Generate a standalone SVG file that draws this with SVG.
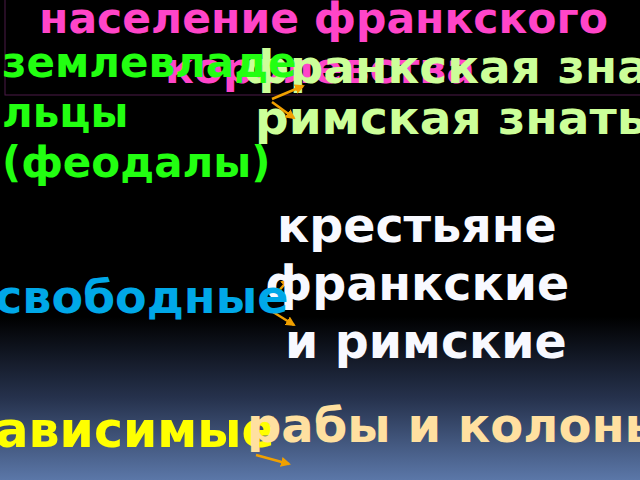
<svg xmlns="http://www.w3.org/2000/svg" width="640" height="480" viewBox="0 0 640 480">
<defs>
<linearGradient id="bg" x1="0" y1="0" x2="0" y2="1">
<stop offset="0" stop-color="#000000"/>
<stop offset="0.66" stop-color="#000000"/>
<stop offset="0.83" stop-color="#26324d"/>
<stop offset="1" stop-color="#5b77a8"/>
</linearGradient>
<marker id="ah" viewBox="0 0 10 10" refX="8" refY="5" markerWidth="4" markerHeight="4" orient="auto" markerUnits="strokeWidth">
<path d="M0,0 L10,5 L0,10 Z" fill="#f0a000"/>
</marker>
<style>
text{font-family:"DejaVu Sans","Liberation Sans",sans-serif;font-weight:bold}
.mag{fill:#ff45c8;font-size:42.5px}
.grn{fill:#22ff11;font-size:42px}
.lg{fill:#ccff99;font-size:47px}
.wh{fill:#f8f9ff;font-size:47.5px}
.bl{fill:#00a8e8;font-size:46px}
.ye{fill:#ffff00;font-size:49px}
.pe{fill:#ffe0a0;font-size:48px}
.arr{stroke:#f0a000;stroke-width:2.5;fill:none;marker-end:url(#ah)}
</style>
</defs>
<rect x="0" y="0" width="640" height="480" fill="url(#bg)"/>
<rect x="5" y="-2" width="640" height="97" fill="none" stroke="#4d1a48" stroke-width="1"/>
<g id="title">
<text class="mag" x="323.5" y="33" text-anchor="middle">население франкского</text>
<text class="mag" x="165" y="83">королевства</text>
</g>
<g id="frank-nobility">
<text class="lg" x="243" y="83">франкская знать</text>
</g>
<g id="roman-nobility">
<text class="lg" x="255" y="134">римская знать</text>
</g>
<g id="connectors">
<line class="arr" x1="272" y1="99" x2="303" y2="86"/>
<line class="arr" x1="272" y1="102" x2="294" y2="118"/>
<line class="arr" x1="271" y1="300" x2="289" y2="279"/>
<line class="arr" x1="273" y1="312" x2="294" y2="325"/>
<line class="arr" x1="256" y1="444" x2="273" y2="418"/>
<line class="arr" x1="256" y1="455" x2="289" y2="464"/>
</g>
<g id="landowners">
<text class="grn" x="2" y="77">землевладе</text>
<text class="grn" x="2" y="127">льцы</text>
<text class="grn" x="2" y="177">(феодалы)</text>
</g>
<g id="peasants">
<text class="wh" x="277" y="242">крестьяне</text>
<text class="wh" x="265" y="300">франкские</text>
<text class="wh" x="285" y="358">и римские</text>
</g>
<g id="free">
<text class="bl" x="-5" y="313">свободные</text>
</g>
<g id="dependent">
<text class="ye" x="-33" y="447">зависимые</text>
</g>
<g id="slaves">
<text class="pe" x="247" y="442">рабы и колоны</text>
</g>
</svg>
